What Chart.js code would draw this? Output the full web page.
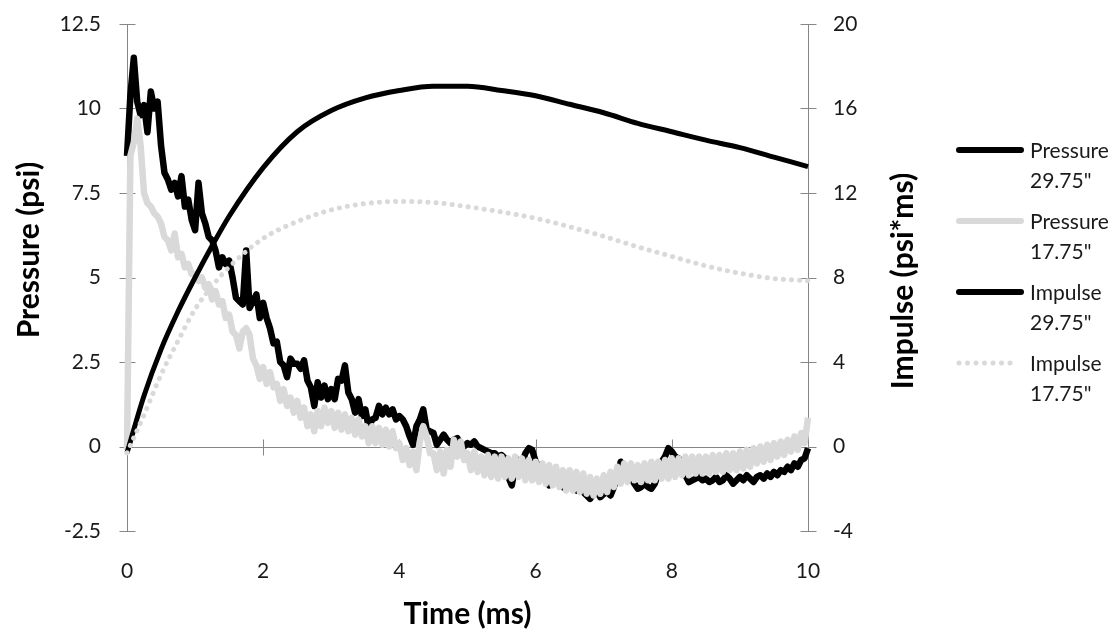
<!DOCTYPE html>
<html>
<head>
<meta charset="utf-8">
<title>Pressure and impulse vs time</title>
<script src="https://cdn.jsdelivr.net/npm/chart.js@4.4.1/dist/chart.umd.min.js"></script>
<style>
  body { margin: 0; background: #fff; }
  #wrap { position: relative; width: 1120px; height: 632px; }
  #legend { position: absolute; left: 956px; top: 135px; font-family: Lato, sans-serif; font-size: 21px; color: #1a1a1a; }
  .item { position: relative; height: 60px; margin-bottom: 11px; padding-left: 74px; line-height: 30px; }
  .item svg { position: absolute; left: 0; top: 12px; }
</style>
</head>
<body>
<div id="wrap">
  <canvas id="myChart"></canvas>
  <div id="legend"></div>
</div>
<script>
"use strict";

// time base of the pressure traces (ms)
let timeMs = [
  0, 0.05, 0.1, 0.15, 0.2, 0.25, 0.3, 0.35, 0.4, 0.45,
  0.5, 0.55, 0.6, 0.65, 0.7, 0.75, 0.8, 0.85, 0.9, 0.95,
  1, 1.05, 1.1, 1.15, 1.2, 1.25, 1.3, 1.35, 1.4, 1.45,
  1.5, 1.55, 1.6, 1.65, 1.7, 1.75, 1.8, 1.85, 1.9, 1.95,
  2, 2.05, 2.1, 2.15, 2.2, 2.25, 2.3, 2.35, 2.4, 2.45,
  2.5, 2.55, 2.6, 2.65, 2.7, 2.75, 2.8, 2.85, 2.9, 2.95,
  3, 3.05, 3.1, 3.15, 3.2, 3.25, 3.3, 3.35, 3.4, 3.45,
  3.5, 3.55, 3.6, 3.65, 3.7, 3.75, 3.8, 3.85, 3.9, 3.95,
  4, 4.05, 4.1, 4.15, 4.2, 4.25, 4.3, 4.35, 4.4, 4.45,
  4.5, 4.55, 4.6, 4.65, 4.7, 4.75, 4.8, 4.85, 4.9, 4.95,
  5, 5.05, 5.1, 5.15, 5.2, 5.25, 5.3, 5.35, 5.4, 5.45,
  5.5, 5.55, 5.6, 5.65, 5.7, 5.75, 5.8, 5.85, 5.9, 5.95,
  6, 6.05, 6.1, 6.15, 6.2, 6.25, 6.3, 6.35, 6.4, 6.45,
  6.5, 6.55, 6.6, 6.65, 6.7, 6.75, 6.8, 6.85, 6.9, 6.95,
  7, 7.05, 7.1, 7.15, 7.2, 7.25, 7.3, 7.35, 7.4, 7.45,
  7.5, 7.55, 7.6, 7.65, 7.7, 7.75, 7.8, 7.85, 7.9, 7.95,
  8, 8.05, 8.1, 8.15, 8.2, 8.25, 8.3, 8.35, 8.4, 8.45,
  8.5, 8.55, 8.6, 8.65, 8.7, 8.75, 8.8, 8.85, 8.9, 8.95,
  9, 9.05, 9.1, 9.15, 9.2, 9.25, 9.3, 9.35, 9.4, 9.45,
  9.5, 9.55, 9.6, 9.65, 9.7, 9.75, 9.8, 9.85, 9.9, 9.95,
  10
];

// pressure at 29.75" (psi)
let pressure2975 = [
  8.6, 10.4, 11.5, 10.2, 9.8, 10.1, 9.3, 10.5, 10.0, 10.2,
  8.9, 8.1, 7.9, 7.6, 7.8, 7.4, 8.0, 7.1, 7.3, 6.7,
  6.4, 7.8, 6.9, 6.6, 6.2, 6.1, 5.8, 5.3, 5.6, 5.4,
  5.5, 5.0, 4.4, 4.3, 4.2, 5.8, 4.1, 4.3, 4.5, 3.8,
  4.25, 3.8, 3.5, 3.05, 3.1, 2.5, 2.4, 2.05, 2.6, 2.45,
  2.45, 2.3, 2.55, 1.95, 1.75, 1.2, 1.9, 1.45, 1.8, 1.4,
  1.7, 1.4, 2.0, 1.95, 2.4, 1.6, 1.4, 1.0, 1.4, 0.9,
  1.1, 0.55, 0.8, 0.85, 1.2, 0.95, 1.15, 0.95, 1.1, 0.8,
  0.9, 0.8, 0.6, 0.3, 0.05, 0.6, 0.8, 1.1, 0.5, 0.45,
  0.4, 0.05, 0.2, 0.35, 0.2, 0.1, 0.2, 0.25, 0.05, 0.0,
  0.1, 0.05, 0.15, 0.0, -0.05, -0.1, -0.15, -0.2, -0.2, -0.3,
  -0.25, -0.35, -0.9, -1.15, -0.6, -0.4, -0.5, -0.2, -0.05, -0.1,
  -0.45, -0.6, -0.9, -1.0, -1.15, -1.0, -0.9, -1.1, -1.2, -1.25,
  -1.1, -1.2, -1.3, -1.2, -1.35, -1.45, -1.55, -1.4, -1.3, -1.5,
  -1.4, -1.35, -1.45, -1.2, -0.9, -0.45, -0.55, -0.7, -0.9, -1.1,
  -1.25, -1.2, -1.1, -1.2, -1.25, -1.1, -0.8, -0.45, -0.3, -0.05,
  -0.15, -0.3, -0.35, -0.5, -0.85, -1.05, -1.0, -0.95, -0.9, -1.0,
  -0.95, -1.05, -1.0, -0.9, -1.05, -1.0, -0.85, -0.95, -1.1, -1.0,
  -0.9, -1.0, -0.85, -0.95, -1.05, -0.9, -0.85, -0.95, -0.8, -0.9,
  -0.75, -0.85, -0.7, -0.75, -0.6, -0.7, -0.5, -0.6, -0.4, -0.35,
  -0.05
];

// pressure at 17.75" (psi)
let pressure1775 = [
  -0.1, 8.6, 9.0, 9.7, 8.9, 7.5, 7.2, 7.1, 6.9, 6.8,
  6.6, 6.2, 6.1, 5.8, 6.3, 5.6, 5.7, 5.3, 5.4, 5.1,
  5.1, 4.9, 5.0, 4.7, 4.8, 4.35, 4.6, 4.2, 4.3, 3.8,
  3.9, 3.4, 3.3, 2.9, 3.4, 3.5, 3.3, 2.6, 2.4, 2.0,
  2.35, 1.85, 2.2, 1.75, 1.85, 1.35, 1.7, 1.2, 1.45, 1.0,
  1.35, 0.85, 1.15, 0.6, 0.95, 0.45, 1.05, 0.6, 1.15, 0.7,
  1.05, 0.55, 1.0, 0.5, 0.95, 0.45, 0.85, 0.35, 0.8, 0.3,
  0.6, 0.1, 0.6, 0.1, 0.55, 0.05, 0.5, 0.0, 0.45, -0.05,
  0.1, -0.4, -0.05, -0.55, -0.15, -0.7, 0.15, 0.6, 0.3, -0.2,
  -0.2, -0.7, -0.15, -0.8, -0.1, -0.6, 0.2, -0.3, 0.15, -0.4,
  -0.2, -0.7, -0.15, -0.75, -0.3, -0.85, -0.25, -0.9, -0.3, -0.95,
  -0.3, -0.9, -0.35, -0.95, -0.3, -0.9, -0.35, -1.0, -0.4, -1.0,
  -0.45, -1.05, -0.5, -1.1, -0.55, -1.15, -0.6, -1.2, -0.7, -1.3,
  -0.7, -1.3, -0.75, -1.35, -0.8, -1.4, -0.9, -1.45, -0.95, -1.4,
  -0.85, -1.35, -0.75, -1.2, -0.6, -1.1, -0.5, -1.05, -0.5, -1.0,
  -0.55, -1.05, -0.5, -1.0, -0.45, -1.0, -0.45, -0.95, -0.4, -0.95,
  -0.35, -0.9, -0.35, -0.85, -0.3, -0.85, -0.3, -0.8, -0.3, -0.8,
  -0.3, -0.8, -0.25, -0.75, -0.25, -0.75, -0.2, -0.7, -0.2, -0.7,
  -0.15, -0.65, -0.1, -0.6, -0.05, -0.5, 0.0, -0.45, 0.05, -0.4,
  0.1, -0.3, 0.15, -0.25, 0.2, -0.15, 0.3, -0.1, 0.4, 0.1,
  0.85
];

// impulse curves (psi*ms)
let impulseTimeMs = [0, 0.25, 0.5, 0.75, 1, 1.25, 1.5, 2, 2.5, 3, 3.5, 4, 4.5, 5, 5.5, 6, 6.5, 7, 7.5, 8, 8.5, 9, 9.5, 10];
let impulse2975 = [-0.3, 2.4, 4.6, 6.4, 8.0, 9.5, 10.9, 13.2, 14.9, 15.9, 16.5, 16.85, 17.05, 17.05, 16.85, 16.6, 16.2, 15.8, 15.3, 14.9, 14.5, 14.15, 13.7, 13.25];
let impulse1775 = [-0.3, 1.5, 3.4, 5.0, 6.5, 7.6, 8.5, 9.85, 10.65, 11.2, 11.5, 11.6, 11.55, 11.35, 11.1, 10.8, 10.4, 9.95, 9.45, 9.0, 8.55, 8.2, 7.95, 7.85];

// tick labels
let timeTicks = [0, 2, 4, 6, 8, 10];
let pressureTicks = [-2.5, 0, 2.5, 5, 7.5, 10, 12.5];
let impulseTicks = [-4, 0, 4, 8, 12, 16, 20];

let seriesNames = ['Pressure 29.75"', 'Pressure 17.75"', 'Impulse 29.75"', 'Impulse 17.75"'];

const black = '#000000';
const lightGray = '#d9d9d9';
const axisGray = '#868686';
const textColor = '#1a1a1a';

function toPoints(xs, ys) {
    return ys.map((v, i) => ({ x: xs[i], y: v }));
}

// draws the axis lines and crossing tick marks (x axis sits on pressure = 0)
const axisLines = {
    id: 'axisLines',
    beforeDatasetsDraw(chart) {
        const { ctx, chartArea, scales } = chart;
        const left = Math.round(chartArea.left) + 0.5;
        const right = Math.round(chartArea.right) + 0.5;
        const zeroY = Math.round(scales.y.getPixelForValue(0)) + 0.5;
        ctx.save();
        ctx.strokeStyle = axisGray;
        ctx.lineWidth = 1;
        ctx.beginPath();
        ctx.moveTo(left, chartArea.top);
        ctx.lineTo(left, chartArea.bottom);
        ctx.moveTo(right, chartArea.top);
        ctx.lineTo(right, chartArea.bottom);
        ctx.moveTo(left, zeroY);
        ctx.lineTo(right, zeroY);
        scales.y.ticks.forEach(t => {
            const py = Math.round(scales.y.getPixelForValue(t.value)) + 0.5;
            ctx.moveTo(left - 8, py);
            ctx.lineTo(left + 8, py);
        });
        scales.y2.ticks.forEach(t => {
            const py = Math.round(scales.y2.getPixelForValue(t.value)) + 0.5;
            ctx.moveTo(right - 8, py);
            ctx.lineTo(right + 8, py);
        });
        scales.x.ticks.forEach(t => {
            const px = Math.round(scales.x.getPixelForValue(t.value)) + 0.5;
            ctx.moveTo(px, zeroY - 8);
            ctx.lineTo(px, zeroY + 8);
        });
        ctx.stroke();
        ctx.restore();
    },
    afterDraw(chart) {
        // vertical axis titles, both read bottom to top
        const { ctx, chartArea } = chart;
        ctx.save();
        ctx.fillStyle = black;
        ctx.font = 'bold 30px Lato';
        ctx.textAlign = 'center';
        ctx.textBaseline = 'middle';
        ctx.translate(29, chartArea.top + 226);
        ctx.rotate(-Math.PI / 2);
        ctx.fillText('Pressure (psi)', 0, 0);
        ctx.restore();
        ctx.save();
        ctx.fillStyle = black;
        ctx.font = 'bold 30px Lato';
        ctx.textAlign = 'center';
        ctx.textBaseline = 'middle';
        ctx.translate(chartArea.right + 95, chartArea.top + 257);
        ctx.rotate(-Math.PI / 2);
        ctx.fillText('Impulse (psi*ms)', 0, 0);
        ctx.restore();
    }
};

const tickFont = { family: 'Lato', size: 21 };

// tick marks themselves are drawn by axisLines; tickLength only spaces the labels
new Chart(document.getElementById('myChart'), {
    type: 'line',
    data: {
        datasets: [{
            label: seriesNames[0],
            data: toPoints(timeMs, pressure2975),
            yAxisID: 'y',
            borderColor: black,
            borderWidth: 6.5,
            borderJoinStyle: 'round',
            pointRadius: 0,
            tension: 0,
            clip: false,
            order: 4
        }, {
            label: seriesNames[1],
            data: toPoints(timeMs, pressure1775),
            yAxisID: 'y',
            borderColor: lightGray,
            borderWidth: 6.5,
            borderJoinStyle: 'round',
            pointRadius: 0,
            tension: 0,
            clip: false,
            order: 3
        }, {
            label: seriesNames[2],
            data: toPoints(impulseTimeMs, impulse2975),
            yAxisID: 'y2',
            borderColor: black,
            borderWidth: 5,
            pointRadius: 0,
            cubicInterpolationMode: 'monotone',
            clip: false,
            order: 2
        }, {
            label: seriesNames[3],
            data: toPoints(impulseTimeMs, impulse1775),
            yAxisID: 'y2',
            borderColor: lightGray,
            borderWidth: 5,
            borderDash: [0.1, 8],
            borderCapStyle: 'round',
            pointRadius: 0,
            cubicInterpolationMode: 'monotone',
            clip: false,
            order: 1
        }]
    },
    options: {
        responsive: true,
        maintainAspectRatio: false,
        animation: false,
        layout: { padding: { top: 24 } },
        plugins: {
            legend: { display: false },
            tooltip: { enabled: false }
        },
        scales: {
            x: {
                type: 'linear',
                min: 0,
                max: 10,
                afterBuildTicks: s => { s.ticks = timeTicks.map(v => ({ value: v })); },
                afterFit: s => { s.height = 101; },
                grid: { display: false, drawTicks: true, tickLength: 28 },
                border: { display: false },
                ticks: { font: tickFont, color: textColor, padding: 0, autoSkip: false, maxRotation: 0, callback: v => String(v) },
                title: { display: true, text: 'Time (ms)', color: black, font: { family: 'Lato', size: 30, weight: 'bold' }, padding: { top: 0, bottom: 0 } }
            },
            y: {
                position: 'left',
                min: -2.5,
                max: 12.5,
                afterBuildTicks: s => { s.ticks = pressureTicks.map(v => ({ value: v })); },
                afterFit: s => { s.width = 127; },
                grid: { display: false, drawTicks: true, tickLength: 26 },
                border: { display: false },
                ticks: { font: tickFont, color: textColor, padding: 0, callback: v => String(v) }
            },
            y2: {
                position: 'right',
                min: -4,
                max: 20,
                afterBuildTicks: s => { s.ticks = impulseTicks.map(v => ({ value: v })); },
                afterFit: s => { s.width = 312; },
                grid: { display: false, drawTicks: true, tickLength: 25 },
                border: { display: false },
                ticks: { font: tickFont, color: textColor, padding: 0, callback: v => String(v) }
            }
        }
    },
    plugins: [axisLines]
});

// legend to the right, two-line labels like the original
function renderLegend() {
    const styles = [
        { color: black, dash: '' },
        { color: lightGray, dash: '' },
        { color: black, dash: '' },
        { color: lightGray, dash: '0 8.5' }
    ];
    const legendEl = document.getElementById('legend');
    seriesNames.forEach((name, i) => {
        const parts = name.split(' ');
        const st = styles[i];
        const item = document.createElement('div');
        item.className = 'item';
        const x2 = st.dash ? 60 : 65;
        item.innerHTML = `<svg width="68" height="6"><line x1="3" y1="3" x2="${x2}" y2="3" stroke="${st.color}" stroke-width="${st.dash ? 5 : 6}" stroke-linecap="round" stroke-dasharray="${st.dash}"/></svg>${parts[0]}<br>${parts[1]}`;
        legendEl.appendChild(item);
    });
}

renderLegend();
</script>
</body>
</html>
